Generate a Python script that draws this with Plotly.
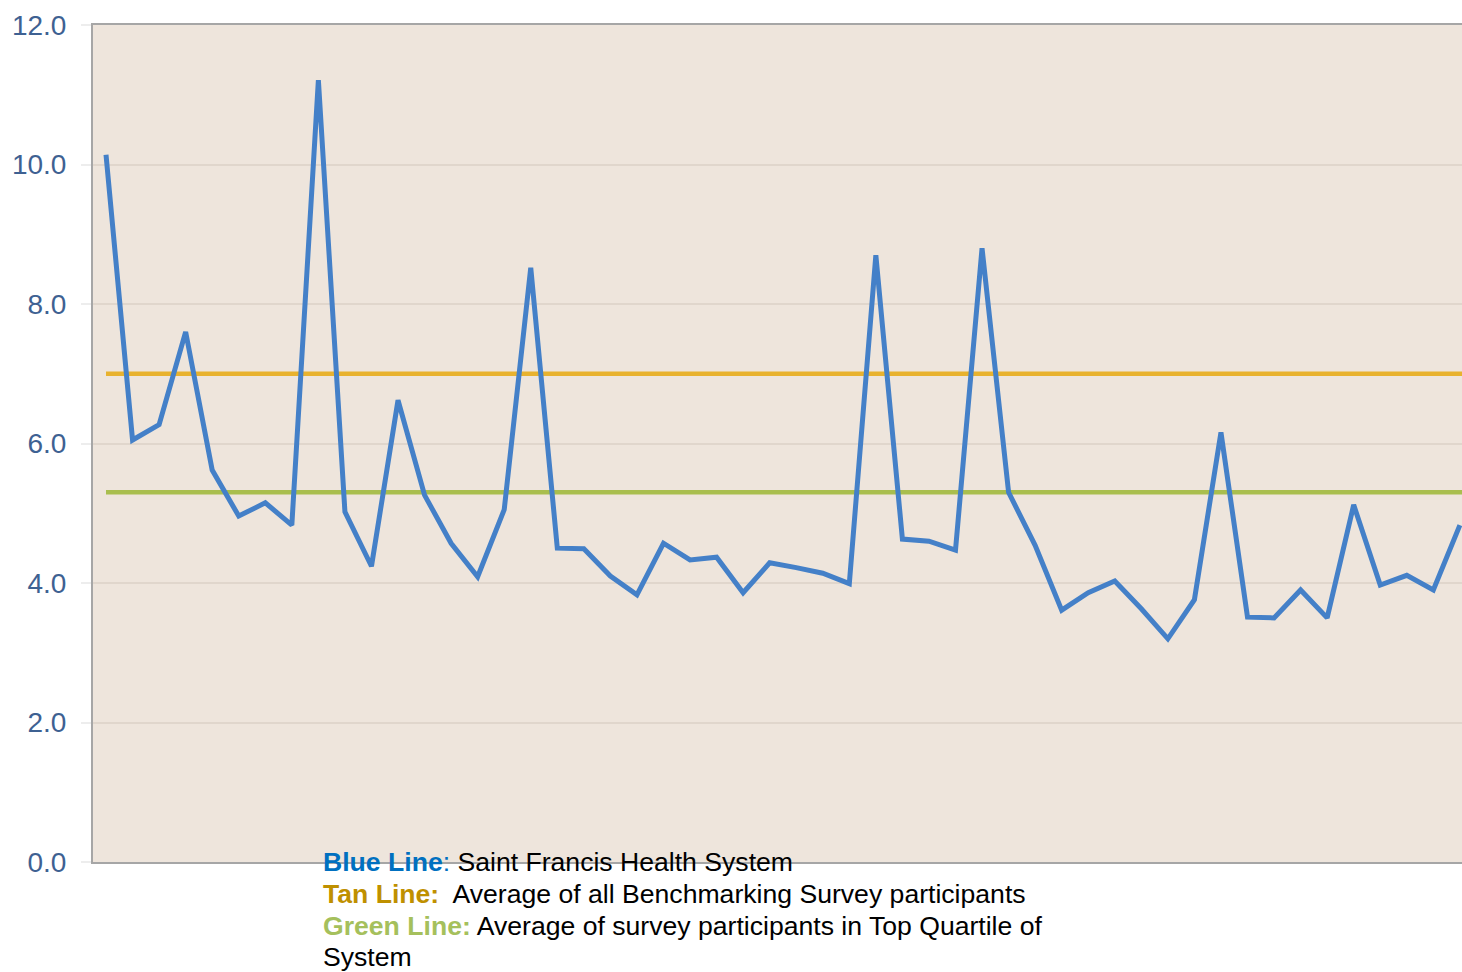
import plotly.graph_objects as go

periods = list(range(1, 53))
saint_francis = [10.14, 6.05, 6.27, 7.60, 5.62, 4.96, 5.15, 4.83, 11.21, 5.02,
                 4.24, 6.62, 5.26, 4.57, 4.09, 5.05, 8.52, 4.50, 4.49, 4.10,
                 3.83, 4.57, 4.33, 4.37, 3.86, 4.29, 4.22, 4.14, 3.99, 8.70,
                 4.63, 4.60, 4.47, 8.80, 5.30, 4.54, 3.61, 3.86, 4.03, 3.63,
                 3.20, 3.76, 6.16, 3.51, 3.50, 3.90, 3.50, 5.12, 3.97, 4.11,
                 3.90, 4.83]
benchmark_avg = 7.0
top_quartile_avg = 5.30
y_ticks = [0, 2, 4, 6, 8, 10, 12]

fig = go.Figure()
fig.add_trace(go.Scatter(x=[periods[0], periods[-1] + 0.1], y=[benchmark_avg, benchmark_avg],
                         mode="lines", line=dict(color="#E8B22E", width=4.5), hoverinfo="skip"))
fig.add_trace(go.Scatter(x=[periods[0], periods[-1] + 0.1], y=[top_quartile_avg, top_quartile_avg],
                         mode="lines", line=dict(color="#A9BE4E", width=4.5), hoverinfo="skip"))
fig.add_trace(go.Scatter(x=periods, y=saint_francis, mode="lines",
                         line=dict(color="#4480C8", width=5)))

font_family = "Liberation Sans, Arial, sans-serif"
fig.update_layout(
    width=1462, height=972,
    margin=dict(l=93, r=0, t=25, b=110, pad=0),
    paper_bgcolor="white",
    plot_bgcolor="#EEE5DC",
    showlegend=False,
    font=dict(family=font_family),
    xaxis=dict(range=[periods[0] - 0.49, periods[-1] + 0.08], showgrid=False, zeroline=False,
               showticklabels=False, ticks="", showline=True, mirror=True,
               linecolor="#A6A6A6", linewidth=2),
    yaxis=dict(range=[0, 12], tickvals=y_ticks, tickformat=".1f", showgrid=True,
               gridcolor="#E0D6CC", gridwidth=2, zeroline=False,
               ticks="outside", ticklen=10, tickcolor="#EDEDED", tickwidth=2,
               ticklabelstandoff=9,
               showline=True, linecolor="#A6A6A6", linewidth=2,
               tickfont=dict(size=28, color="#3E6192", family=font_family)),
)

lines = [
    ("<b><span style='color:#0070C0'>Blue Line</span></b><span style='color:#0070C0'>:</span> Saint Francis Health System", 0),
    ("<b><span style='color:#BF9000'>Tan Line:</span></b>  Average of all Benchmarking Survey participants", 1),
    ("<b><span style='color:#A5C05C'>Green Line:</span></b> Average of survey participants in Top Quartile of", 2),
    ("System", 3),
]
for txt, i in lines:
    fig.add_annotation(text=txt, xref="paper", yref="paper", x=(321 - 93) / 1369, y=0,
                       xanchor="left", yanchor="middle", yshift=-32 * i + (1 if i == 3 else 0),
                       showarrow=False,
                       align="left", font=dict(size=26.6, color="black", family=font_family))

fig.write_html("out.html")
